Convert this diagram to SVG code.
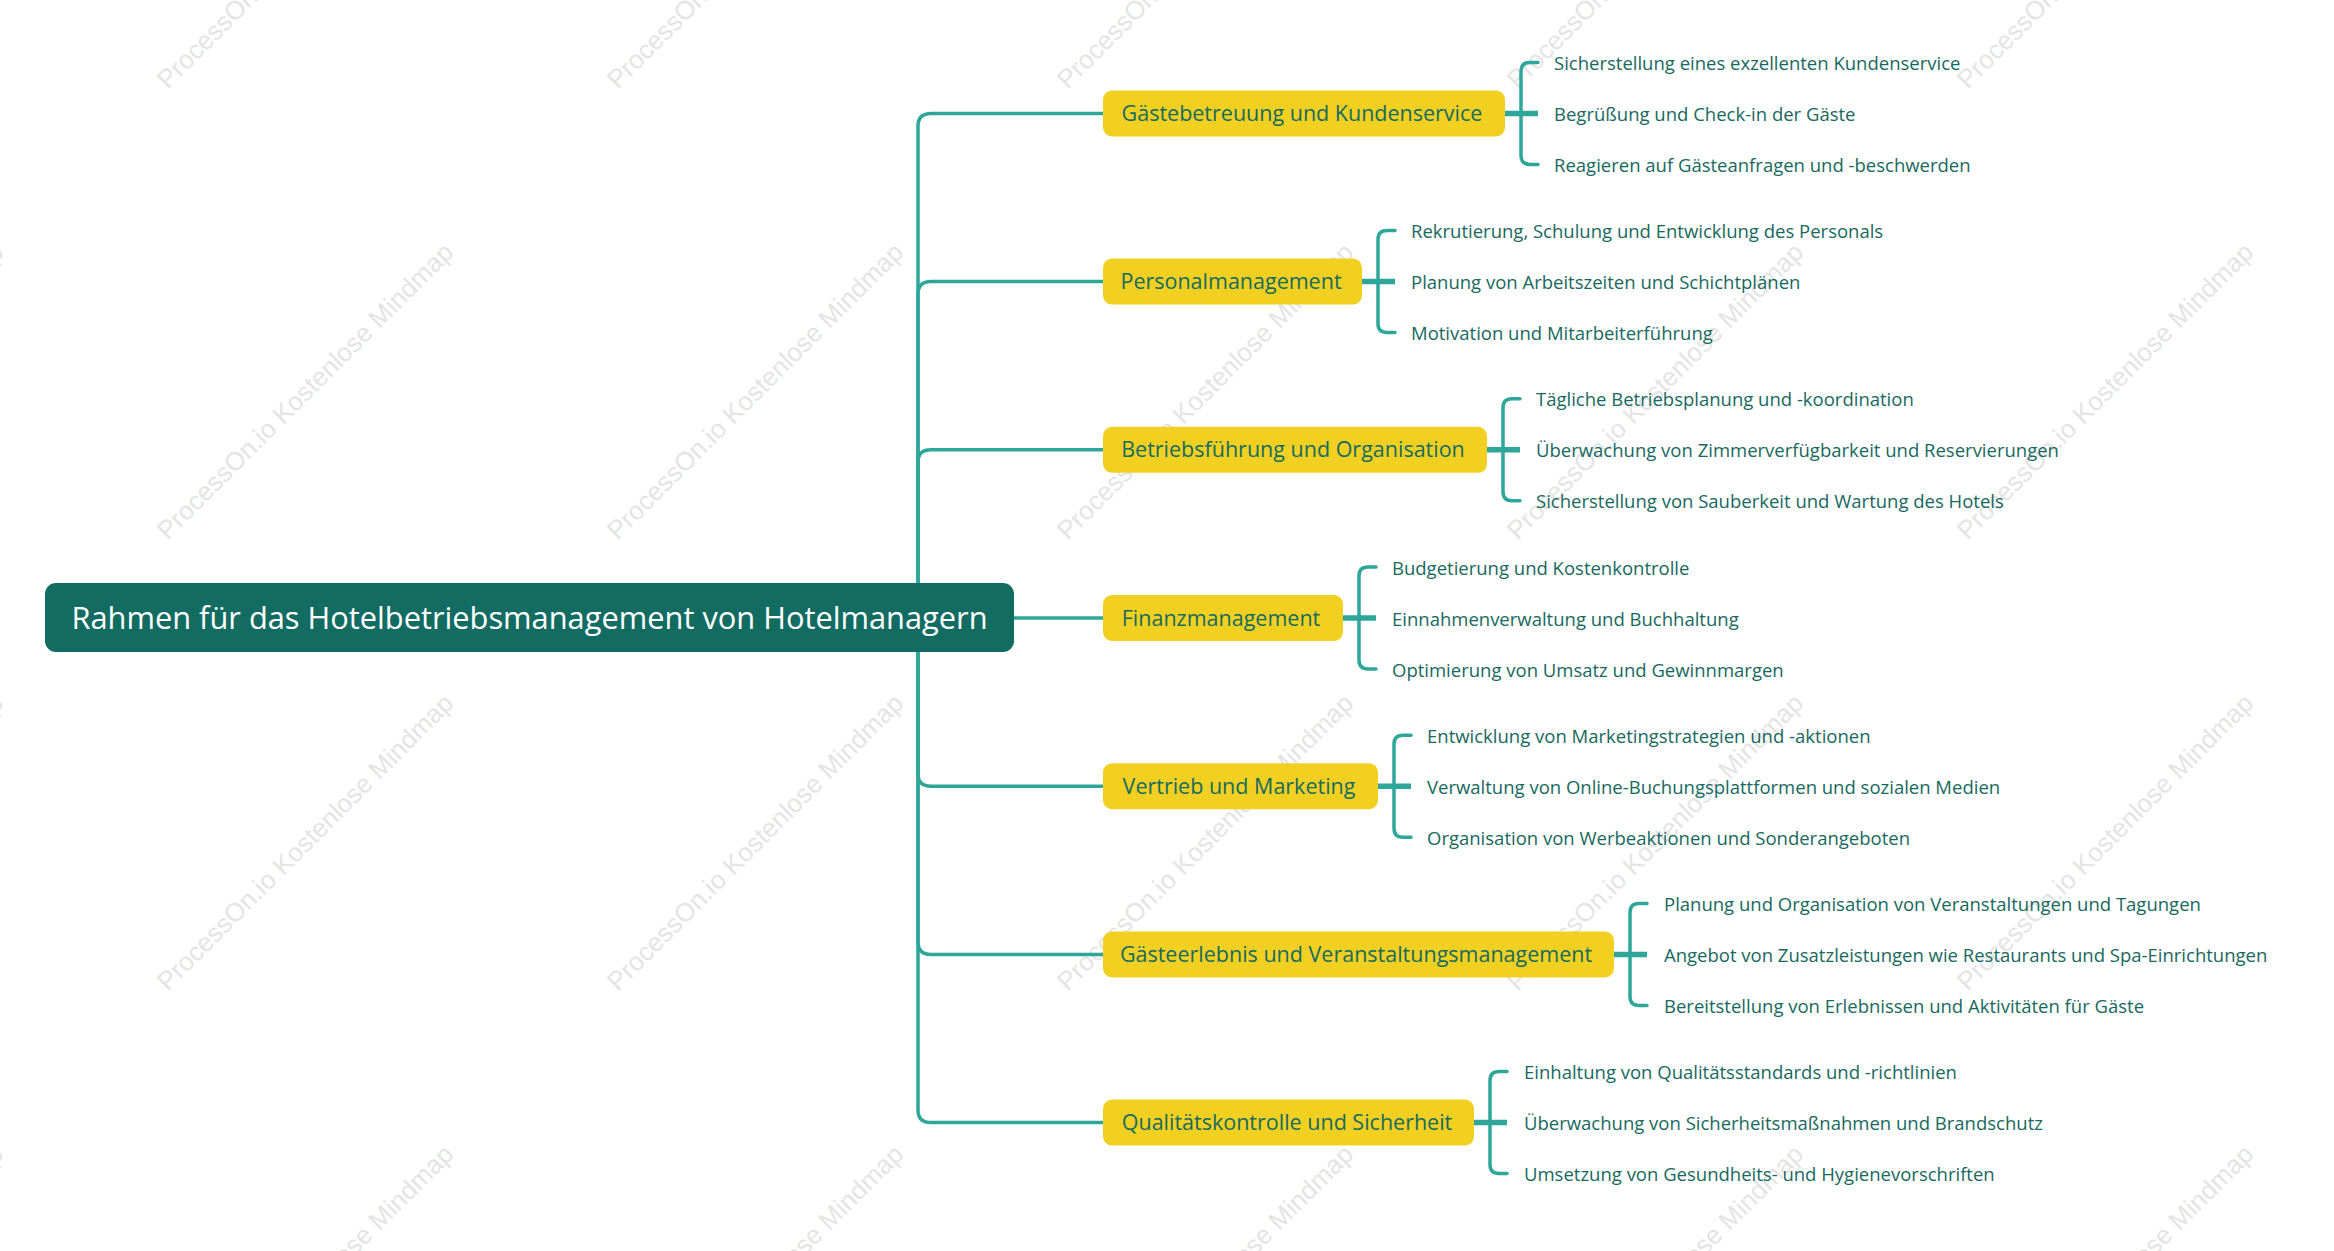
<svg xmlns="http://www.w3.org/2000/svg" width="2334" height="1251" viewBox="0 0 2334 1251">
<style>
.wm{font-family:"Liberation Sans",Arial,sans-serif;font-size:26px;fill:#e4e4e4;text-anchor:middle;dominant-baseline:central}
.root rect{fill:#136c62}
.root text{font-family:"Open Sans","Noto Sans",sans-serif;font-size:30.8px;fill:#ffffff;text-anchor:middle;dominant-baseline:central}
.br rect{fill:#f2d022}
.br text{font-family:"Open Sans","Noto Sans",sans-serif;font-size:21.5px;fill:#156b5e;text-anchor:middle;dominant-baseline:central}
.leaf{font-family:"Open Sans","Noto Sans",sans-serif;font-size:18.5px;fill:#17695e;dominant-baseline:central}
.ln{fill:none;stroke:#2fa69a;stroke-width:3.5;stroke-linecap:round}
.lk{fill:none;stroke:#2fa69a;stroke-width:5.5}
</style>
<rect width="2334" height="1251" fill="#ffffff"/>
<g id="watermarks">
<text class="wm" transform="translate(-145,-60) rotate(-45)">ProcessOn.io Kostenlose Mindmap</text>
<text class="wm" transform="translate(305,-60) rotate(-45)">ProcessOn.io Kostenlose Mindmap</text>
<text class="wm" transform="translate(755,-60) rotate(-45)">ProcessOn.io Kostenlose Mindmap</text>
<text class="wm" transform="translate(1205,-60) rotate(-45)">ProcessOn.io Kostenlose Mindmap</text>
<text class="wm" transform="translate(1655,-60) rotate(-45)">ProcessOn.io Kostenlose Mindmap</text>
<text class="wm" transform="translate(2105,-60) rotate(-45)">ProcessOn.io Kostenlose Mindmap</text>
<text class="wm" transform="translate(-145,391) rotate(-45)">ProcessOn.io Kostenlose Mindmap</text>
<text class="wm" transform="translate(305,391) rotate(-45)">ProcessOn.io Kostenlose Mindmap</text>
<text class="wm" transform="translate(755,391) rotate(-45)">ProcessOn.io Kostenlose Mindmap</text>
<text class="wm" transform="translate(1205,391) rotate(-45)">ProcessOn.io Kostenlose Mindmap</text>
<text class="wm" transform="translate(1655,391) rotate(-45)">ProcessOn.io Kostenlose Mindmap</text>
<text class="wm" transform="translate(2105,391) rotate(-45)">ProcessOn.io Kostenlose Mindmap</text>
<text class="wm" transform="translate(-145,842) rotate(-45)">ProcessOn.io Kostenlose Mindmap</text>
<text class="wm" transform="translate(305,842) rotate(-45)">ProcessOn.io Kostenlose Mindmap</text>
<text class="wm" transform="translate(755,842) rotate(-45)">ProcessOn.io Kostenlose Mindmap</text>
<text class="wm" transform="translate(1205,842) rotate(-45)">ProcessOn.io Kostenlose Mindmap</text>
<text class="wm" transform="translate(1655,842) rotate(-45)">ProcessOn.io Kostenlose Mindmap</text>
<text class="wm" transform="translate(2105,842) rotate(-45)">ProcessOn.io Kostenlose Mindmap</text>
<text class="wm" transform="translate(-145,1293) rotate(-45)">ProcessOn.io Kostenlose Mindmap</text>
<text class="wm" transform="translate(305,1293) rotate(-45)">ProcessOn.io Kostenlose Mindmap</text>
<text class="wm" transform="translate(755,1293) rotate(-45)">ProcessOn.io Kostenlose Mindmap</text>
<text class="wm" transform="translate(1205,1293) rotate(-45)">ProcessOn.io Kostenlose Mindmap</text>
<text class="wm" transform="translate(1655,1293) rotate(-45)">ProcessOn.io Kostenlose Mindmap</text>
<text class="wm" transform="translate(2105,1293) rotate(-45)">ProcessOn.io Kostenlose Mindmap</text>
</g>
<g id="connectors">
<path class="ln" d="M918 618 V126 Q918 113.4 931 113.4 H1103"/>
<path class="ln" d="M918 618 V294 Q918 281.6 931 281.6 H1103"/>
<path class="ln" d="M918 618 V462 Q918 449.8 931 449.8 H1103"/>
<path class="ln" d="M1010 618 H1103"/>
<path class="ln" d="M918 618 V774 Q918 786.2 931 786.2 H1103"/>
<path class="ln" d="M918 618 V942 Q918 954.4 931 954.4 H1103"/>
<path class="ln" d="M918 618 V1110 Q918 1122.6 931 1122.6 H1103"/>
<path class="lk" d="M1503 113.4 H1538"/>
<path class="ln" d="M1538 62.4 H1530 Q1521 62.4 1521 71.4 V155.4 Q1521 164.4 1530 164.4 H1538"/>
<path class="lk" d="M1360 281.6 H1395"/>
<path class="ln" d="M1395 230.6 H1387 Q1378 230.6 1378 239.6 V323.6 Q1378 332.6 1387 332.6 H1395"/>
<path class="lk" d="M1485 449.8 H1520"/>
<path class="ln" d="M1520 398.8 H1512 Q1503 398.8 1503 407.8 V491.8 Q1503 500.8 1512 500.8 H1520"/>
<path class="lk" d="M1341 618 H1376"/>
<path class="ln" d="M1376 567 H1368 Q1359 567 1359 576 V660 Q1359 669 1368 669 H1376"/>
<path class="lk" d="M1376 786.2 H1411"/>
<path class="ln" d="M1411 735.2 H1403 Q1394 735.2 1394 744.2 V828.2 Q1394 837.2 1403 837.2 H1411"/>
<path class="lk" d="M1612 954.4 H1647"/>
<path class="ln" d="M1647 903.4 H1639 Q1630 903.4 1630 912.4 V996.4 Q1630 1005.4 1639 1005.4 H1647"/>
<path class="lk" d="M1472 1122.6 H1507"/>
<path class="ln" d="M1507 1071.6 H1499 Q1490 1071.6 1490 1080.6 V1164.6 Q1490 1173.6 1499 1173.6 H1507"/>
</g>
<g id="root" class="root">
<rect x="45" y="583" width="969" height="69" rx="11"/>
<text x="529.5" y="617">Rahmen für das Hotelbetriebsmanagement von Hotelmanagern</text>
</g>
<g id="b1" class="br"><rect x="1103" y="90.4" width="402" height="46" rx="9"/><text x="1302" y="112.4">Gästebetreuung und Kundenservice</text></g>
<g id="b2" class="br"><rect x="1103" y="258.6" width="259" height="46" rx="9"/><text x="1231" y="280.6">Personalmanagement</text></g>
<g id="b3" class="br"><rect x="1103" y="426.8" width="384" height="46" rx="9"/><text x="1293" y="448.8">Betriebsführung und Organisation</text></g>
<g id="b4" class="br"><rect x="1103" y="595" width="240" height="46" rx="9"/><text x="1221" y="617">Finanzmanagement</text></g>
<g id="b5" class="br"><rect x="1103" y="763.2" width="275" height="46" rx="9"/><text x="1239" y="785.2">Vertrieb und Marketing</text></g>
<g id="b6" class="br"><rect x="1103" y="931.4" width="511" height="46" rx="9"/><text x="1356" y="953.4">Gästeerlebnis und Veranstaltungsmanagement</text></g>
<g id="b7" class="br"><rect x="1103" y="1099.6" width="371" height="46" rx="9"/><text x="1287" y="1121.6">Qualitätskontrolle und Sicherheit</text></g>
<g id="l1">
<text class="leaf" x="1554" y="62.4">Sicherstellung eines exzellenten Kundenservice</text>
<text class="leaf" x="1554" y="113.4">Begrüßung und Check-in der Gäste</text>
<text class="leaf" x="1554" y="164.4">Reagieren auf Gästeanfragen und -beschwerden</text>
</g>
<g id="l2">
<text class="leaf" x="1411" y="230.6">Rekrutierung, Schulung und Entwicklung des Personals</text>
<text class="leaf" x="1411" y="281.6">Planung von Arbeitszeiten und Schichtplänen</text>
<text class="leaf" x="1411" y="332.6">Motivation und Mitarbeiterführung</text>
</g>
<g id="l3">
<text class="leaf" x="1536" y="398.8">Tägliche Betriebsplanung und -koordination</text>
<text class="leaf" x="1536" y="449.8">Überwachung von Zimmerverfügbarkeit und Reservierungen</text>
<text class="leaf" x="1536" y="500.8">Sicherstellung von Sauberkeit und Wartung des Hotels</text>
</g>
<g id="l4">
<text class="leaf" x="1392" y="567">Budgetierung und Kostenkontrolle</text>
<text class="leaf" x="1392" y="618">Einnahmenverwaltung und Buchhaltung</text>
<text class="leaf" x="1392" y="669">Optimierung von Umsatz und Gewinnmargen</text>
</g>
<g id="l5">
<text class="leaf" x="1427" y="735.2">Entwicklung von Marketingstrategien und -aktionen</text>
<text class="leaf" x="1427" y="786.2">Verwaltung von Online-Buchungsplattformen und sozialen Medien</text>
<text class="leaf" x="1427" y="837.2">Organisation von Werbeaktionen und Sonderangeboten</text>
</g>
<g id="l6">
<text class="leaf" x="1664" y="903.4">Planung und Organisation von Veranstaltungen und Tagungen</text>
<text class="leaf" x="1664" y="954.4">Angebot von Zusatzleistungen wie Restaurants und Spa-Einrichtungen</text>
<text class="leaf" x="1664" y="1005.4">Bereitstellung von Erlebnissen und Aktivitäten für Gäste</text>
</g>
<g id="l7">
<text class="leaf" x="1524" y="1071.6">Einhaltung von Qualitätsstandards und -richtlinien</text>
<text class="leaf" x="1524" y="1122.6">Überwachung von Sicherheitsmaßnahmen und Brandschutz</text>
<text class="leaf" x="1524" y="1173.6">Umsetzung von Gesundheits- und Hygienevorschriften</text>
</g>
</svg>
